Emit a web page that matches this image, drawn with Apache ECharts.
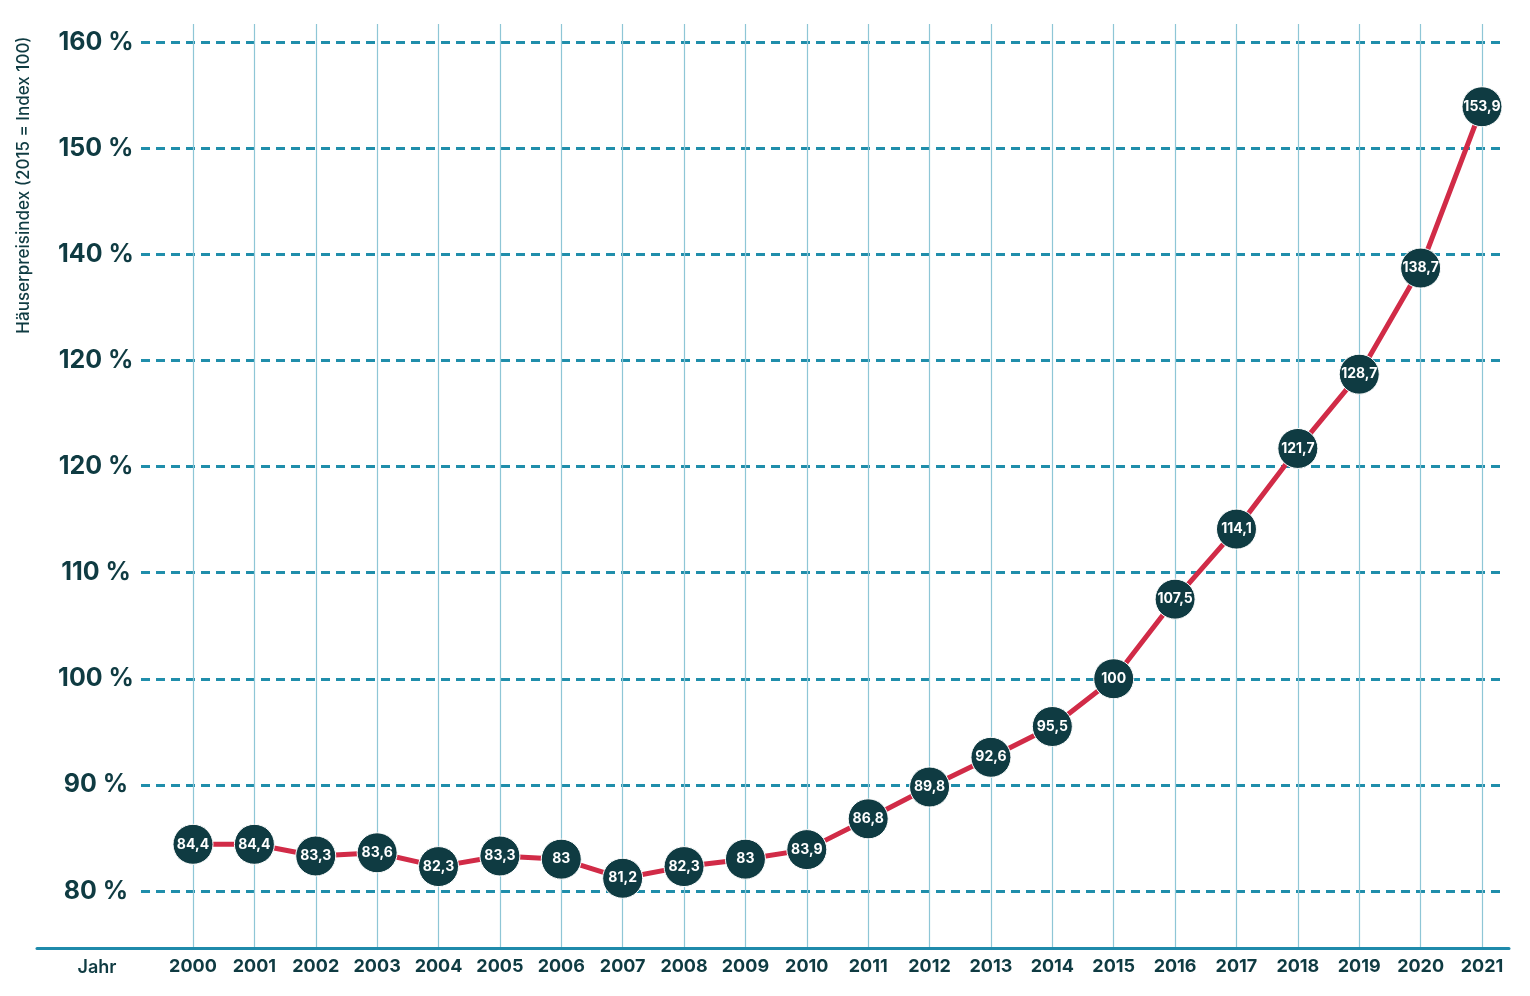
<!DOCTYPE html>
<html>
<head>
<meta charset="utf-8">
<script src="https://cdn.jsdelivr.net/npm/echarts@6/dist/echarts.min.js"></script>
<style>
  html, body { margin: 0; padding: 0; background: #ffffff; }
  #chart { width: 1530px; height: 996px; }
</style>
</head>
<body>
<div id="chart"></div>
<script>
const years = ['2000','2001','2002','2003','2004','2005','2006','2007','2008','2009','2010',
  '2011','2012','2013','2014','2015','2016','2017','2018','2019','2020','2021'];
const indexValues = [84.4, 84.4, 83.3, 83.6, 82.3, 83.3, 83, 81.2, 82.3, 83, 83.9,
  86.8, 89.8, 92.6, 95.5, 100, 107.5, 114.1, 121.7, 128.7, 138.7, 153.9];
const yTickValues = [80, 90, 100, 110, 120, 130, 140, 150, 160];
const yTickLabels = ['80 %', '90 %', '100 %', '110 %', '120 %', '120 %', '140 %', '150 %', '160 %'];
const yAxisTitle = 'Häuserpreisindex (2015 = Index 100)';
const xAxisTitle = 'Jahr';

const FONT = 'Inter, "Noto Sans", sans-serif';
const DARK = '#0f3b42';

// pixel layout
const plotTopPx = 24, axisPx = 948, y80Px = 891, y160Px = 42;
const unitPx = (y80Px - y160Px) / (yTickValues[yTickValues.length-1] - yTickValues[0]);
const dataMin = yTickValues[0] - (axisPx - y80Px) / unitPx;
const dataMax = yTickValues[yTickValues.length-1] + (y160Px - plotTopPx) / unitPx;

const chart = echarts.init(document.getElementById('chart'), null, { renderer: 'canvas' });

chart.setOption({
  backgroundColor: '#ffffff',
  animation: false,
  textStyle: { fontFamily: FONT },
  grid: [
    { left: 141, right: 25, top: y160Px, bottom: 996 - y80Px },   // dashed lines + y labels
    { left: 193, right: 48, top: plotTopPx, bottom: 996 - axisPx }, // data + vertical lines
    { left: 37, right: 21, top: 900, bottom: 996 - axisPx }        // baseline
  ],
  xAxis: [
    { gridIndex: 0, type: 'value', show: false, min: 0, max: 1 },
    {
      gridIndex: 1, type: 'category', data: years, boundaryGap: false,
      axisLine: { show: false }, axisTick: { show: false },
      axisLabel: { interval: 0, hideOverlap: false, color: DARK, fontSize: 18, fontWeight: 'bold', margin: 10, fontFamily: FONT },
      splitLine: { show: true, interval: 0, lineStyle: { color: '#8ec6d6', width: 1.2 } }
    },
    {
      gridIndex: 2, type: 'value', min: 0, max: 1,
      axisLine: { show: true, lineStyle: { color: '#1f8aab', width: 3 } },
      axisTick: { show: false }, axisLabel: { show: false }, splitLine: { show: false }
    }
  ],
  yAxis: [
    {
      gridIndex: 0, type: 'value', min: 80, max: 160, interval: 10,
      axisLine: { show: false }, axisTick: { show: false },
      axisLabel: {
        color: DARK, fontSize: 25, fontWeight: 'bold', align: 'center', margin: 45, fontFamily: FONT,
        formatter: function (v) {
          const i = yTickValues.indexOf(v);
          return i >= 0 ? yTickLabels[i] : '';
        }
      },
      splitLine: { show: true, lineStyle: { color: '#208eab', width: 3.2, type: [9, 6] } }
    },
    { gridIndex: 1, type: 'value', min: dataMin, max: dataMax, show: false, splitLine: { show: false } },
    { gridIndex: 2, type: 'value', show: false, splitLine: { show: false } }
  ],
  graphic: [
    {
      type: 'text', x: 24, y: 185, rotation: Math.PI / 2,
      style: { text: yAxisTitle, fill: DARK, font: '500 17px ' + FONT, textAlign: 'center', textVerticalAlign: 'middle' }
    },
    {
      type: 'text', x: 97, y: 968,
      style: { text: xAxisTitle, fill: DARK, font: '600 18px ' + FONT, textAlign: 'center', textVerticalAlign: 'middle' }
    }
  ],
  series: [
    {
      type: 'line', xAxisIndex: 1, yAxisIndex: 1, data: indexValues,
      lineStyle: { color: '#d12b47', width: 5 },
      symbol: 'circle', symbolSize: 40, showAllSymbol: true,
      itemStyle: { color: DARK, borderColor: '#ffffff', borderWidth: 1 },
      label: {
        show: true, position: 'inside', color: '#ffffff', fontSize: 14, fontWeight: 'bold', fontFamily: FONT,
        formatter: function (p) { return String(p.value).replace('.', ','); }
      },
      labelLayout: { hideOverlap: false },
      emphasis: { disabled: true },
      z: 5
    }
  ]
});
</script>
</body>
</html>
